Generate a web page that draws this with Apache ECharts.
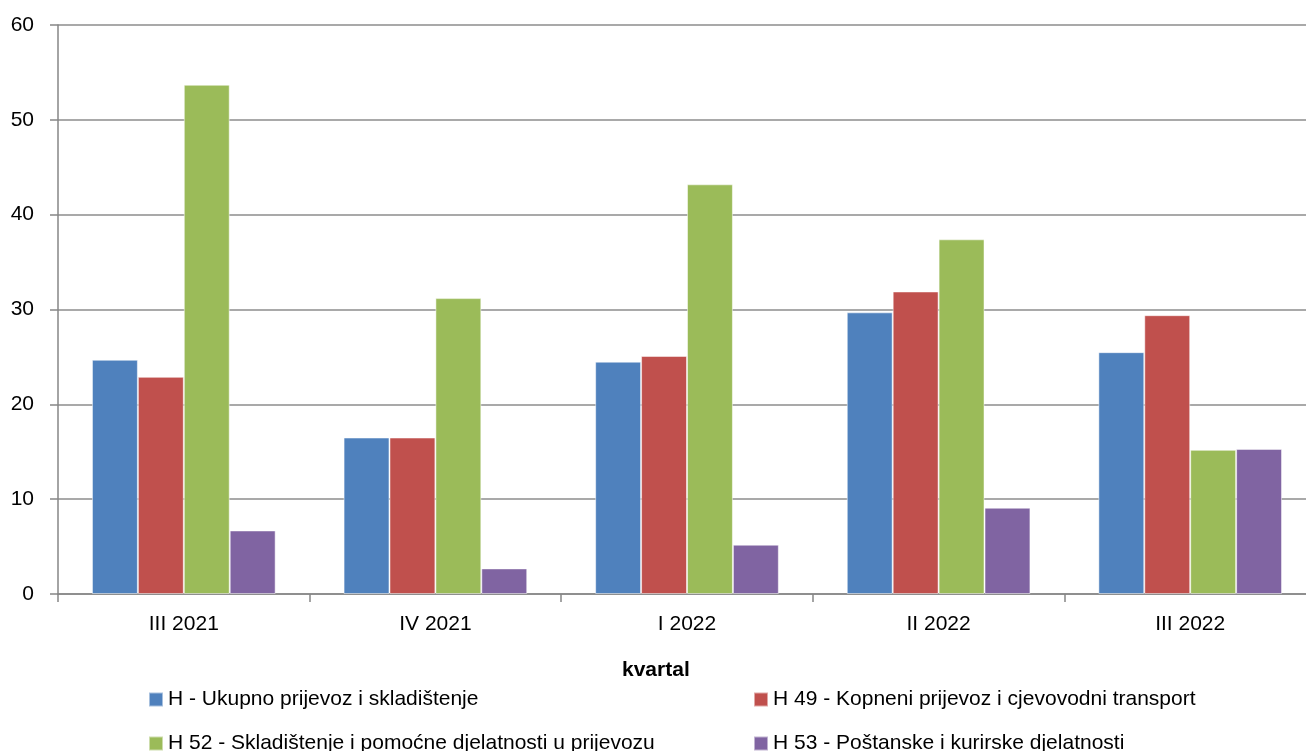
<!DOCTYPE html>
<html><head><meta charset="utf-8">
<script src="https://cdn.jsdelivr.net/npm/echarts@6/dist/echarts.min.js"></script>
<style>html,body{margin:0;padding:0;background:#fff;overflow:hidden;width:1306px;height:751px}#c{width:1318px;height:751px}</style>
</head><body><div id="c"></div>
<script>
var categories = ['III 2021', 'IV 2021', 'I 2022', 'II 2022', 'III 2022'];
var seriesNames = ['H - Ukupno prijevoz i skladištenje', 'H 49 - Kopneni prijevoz i cjevovodni transport', 'H 52 - Skladištenje i pomoćne djelatnosti u prijevozu', 'H 53 - Poštanske i kurirske djelatnosti'];
var valsH   = [24.7, 16.5, 24.5, 29.7, 25.5];
var valsH49 = [22.9, 16.5, 25.1, 31.9, 29.4];
var valsH52 = [53.7, 31.2, 43.2, 37.4, 15.2];
var valsH53 = [6.7, 2.7, 5.2, 9.1, 15.3];
var yTicks = {min: 0, max: 60, interval: 10};
var axisTitle = 'kvartal';
var colors = ['#4F81BD', '#C0504D', '#9BBB59', '#8064A2'];
var font = 'Liberation Sans';
var chart = echarts.init(document.getElementById('c'));
var data = [valsH, valsH49, valsH52, valsH53];
var legendPos = [[143, 684], [748, 684], [143, 728], [748, 728]];
chart.setOption({
  animation: false,
  textStyle: {fontFamily: font},
  title: {text: axisTitle, left: 622, top: 660, padding: 0,
    textStyle: {fontFamily: font, fontWeight: 'bold', fontSize: 21, color: '#000'}},
  grid: {left: 58, right: 2, top: 25, bottom: 157},
  xAxis: {
    type: 'category', data: categories,
    axisLine: {lineStyle: {color: '#868686', width: 1.5}},
    axisTick: {show: true, length: 8, lineStyle: {color: '#868686', width: 1.5}},
    axisLabel: {fontSize: 21, color: '#000', margin: 20, fontFamily: font}
  },
  yAxis: {
    type: 'value', min: yTicks.min, max: yTicks.max, interval: yTicks.interval,
    axisLine: {show: true, lineStyle: {color: '#868686', width: 1.5}},
    axisTick: {show: true, length: 8, lineStyle: {color: '#868686', width: 1.5}},
    splitLine: {lineStyle: {color: '#8c8c8c', width: 1.5}},
    axisLabel: {fontSize: 21, color: '#000', margin: 24, fontFamily: font}
  },
  legend: seriesNames.map(function (n, i) {
    return {data: [n], left: legendPos[i][0], top: legendPos[i][1], itemWidth: 14, itemHeight: 14,
      icon: 'rect', textStyle: {fontSize: 21, color: '#000', fontFamily: font}};
  }),
  series: seriesNames.map(function (n, i) {
    return {name: n, type: 'bar', data: data[i],
      itemStyle: {color: colors[i], borderColor: 'rgba(255,255,255,0.5)', borderWidth: 1},
      barGap: '0%', barCategoryGap: '27%'};
  })
});
</script></body></html>
